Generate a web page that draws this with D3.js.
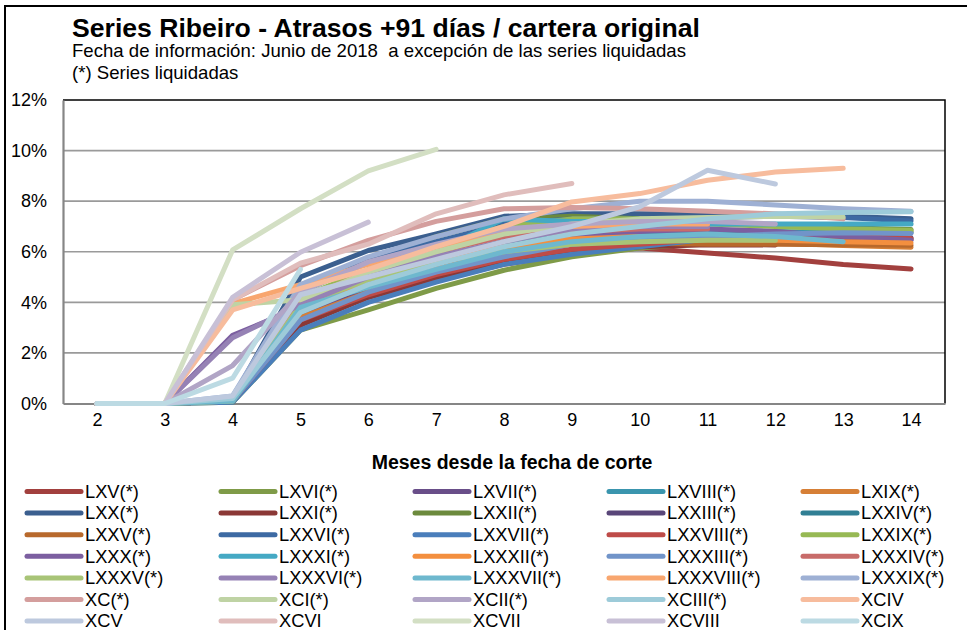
<!DOCTYPE html>
<html><head><meta charset="utf-8">
<script src="https://cdn.jsdelivr.net/npm/d3@7"></script>
<style>
html,body{margin:0;padding:0;background:#fff;}
svg{display:block;font-family:Arial,"Liberation Sans",sans-serif;}
</style></head>
<body><svg id="c" width="967" height="630"></svg>
<script>
const titleText = "Series Ribeiro - Atrasos +91 días / cartera original";
const subtitle1 = "Fecha de información: Junio de 2018  a excepción de las series liquidadas";
const subtitle2 = "(*) Series liquidadas";
const xTitle = "Meses desde la fecha de corte";

const months = [2,3,4,5,6,7,8,9,10,11,12,13,14];
const yTicks = [0,2,4,6,8,10,12];

const seriesNames = [
 "LXV(*)","LXVI(*)","LXVII(*)","LXVIII(*)","LXIX(*)",
 "LXX(*)","LXXI(*)","LXXII(*)","LXXIII(*)","LXXIV(*)",
 "LXXV(*)","LXXVI(*)","LXXVII(*)","LXXVIII(*)","LXXIX(*)",
 "LXXX(*)","LXXXI(*)","LXXXII(*)","LXXXIII(*)","LXXXIV(*)",
 "LXXXV(*)","LXXXVI(*)","LXXXVII(*)","LXXXVIII(*)","LXXXIX(*)",
 "XC(*)","XCI(*)","XCII(*)","XCIII(*)","XCIV",
 "XCV","XCVI","XCVII","XCVIII","XCIX"
];
const seriesColors = [
 "#A2403E","#7F9B48","#694E89","#3A95AE","#D67F36",
 "#3B5F8F","#8B3836","#6C8A3D","#594679","#317F94",
 "#B8692C","#3D6AA3","#4A7EBB","#BE4B48","#97B954",
 "#7C5FA0","#45A9C4","#F38F3F","#7194C9","#C86C6A",
 "#A8C477","#9682B5","#6EB8CE","#F8A66F","#9EB0D4",
 "#D49E9D","#BFD3A4","#B1A5C6","#9DCBD9","#F7BC9D",
 "#BDC9DE","#E0BDBC","#D3DFC4","#C8C0D6","#BCDAE3"
];
// values in %, starting at month 2
const seriesValues = [
 [0,0,0.10,3.20,4.20,4.90,5.50,5.90,6.15,5.95,5.75,5.50,5.32],
 [0,0,0.05,2.90,3.70,4.55,5.27,5.80,6.15,6.35,6.50,6.65,6.80],
 [0,0,0.15,3.50,4.60,5.30,5.90,6.40,6.60,6.65,6.60,6.55,6.48],
 [0,0,0.10,3.60,4.80,5.60,6.30,6.70,6.90,6.85,6.80,6.75],
 [0,0,0.10,3.40,4.40,5.10,5.80,6.30,6.50,6.45,6.35,6.25,6.18],
 [0,0,0.20,5.00,6.05,6.70,7.40,7.50,7.50,7.50,7.45,7.40,7.30],
 [0,0,0.10,3.10,4.20,5.00,5.60,6.00,6.20,6.28,6.27],
 [0,0,0.10,4.40,5.60,6.60,7.30,7.40,7.30,7.15,7.05,6.95,6.88],
 [0,0,0.20,3.80,4.90,5.60,6.20,6.60,6.70,6.70,6.65,6.60,6.55],
 [0,0,0.10,3.90,5.00,5.80,6.40,6.80,6.75,6.70,6.60,6.38],
 [0,0,0.10,3.70,4.80,5.50,6.10,6.30,6.35,6.30,6.30,6.28,6.26],
 [0,0,0.20,4.60,5.70,6.40,7.10,7.30,7.30,7.35,7.40,7.35,7.22],
 [0,0,0.05,2.90,4.00,4.80,5.50,5.90,6.20,6.50,6.60,6.70,6.75],
 [0,0,0.10,3.30,4.30,5.10,5.70,6.10,6.30,6.50,6.60,6.60,6.52],
 [0,0,0.20,4.20,5.30,6.20,7.00,7.30,7.30,7.10,7.00,6.90,6.85],
 [0,0,2.70,3.80,4.90,5.60,6.20,6.60,6.80,6.90,6.80,6.60,6.45],
 [0,0,0.10,4.00,5.20,6.00,7.30,7.20,7.20,7.10,7.10,7.10,7.10],
 [0,0,0.20,3.70,4.90,5.60,6.20,6.50,6.60,6.50,6.45,6.40,6.35],
 [0,0,0.10,3.30,4.40,5.20,5.80,6.30,6.50,6.60,6.70,6.75,6.72],
 [0,0,0.20,4.10,5.20,6.00,6.60,6.80,6.90,6.90],
 [0,0,0.10,3.90,4.90,5.60,6.00,6.30,6.40,6.45,6.45],
 [0,0,2.60,3.90,5.00,5.80,6.40,6.90,7.00,7.00],
 [0,0,0.10,3.80,4.60,5.30,6.00,6.40,6.60,6.70,6.60,6.40],
 [0,0,3.95,4.70,5.50,6.20,6.80,7.00,7.10,7.10],
 [0,0,0.30,4.70,5.80,6.60,7.30,7.70,8.00,8.00,7.85,7.70,7.60],
 [0,0,4.10,5.45,6.45,7.20,7.70,7.75,7.70,7.60,7.50,7.30],
 [0,0,3.90,4.10,5.20,6.00,6.70,7.10,7.30,7.35,7.40,7.37],
 [0,0,1.50,4.40,5.60,6.30,6.90,7.10,7.20,7.20,7.10],
 [0,0,0.20,3.60,4.70,5.50,6.20,6.70,7.00,7.30,7.50,7.55,7.58],
 [0,0,3.70,4.55,5.30,6.20,7.00,7.97,8.30,8.83,9.15,9.30],
 [0,0,0.30,4.30,5.00,5.70,6.40,7.00,7.78,9.22,8.68],
 [0,0,4.10,5.55,6.30,7.50,8.25,8.70],
 [0,0,6.07,7.70,9.20,10.05],
 [0,0,4.20,5.98,7.17],
 [0,0,1.00,5.30]
];

const svg = d3.select("#c");
const plot = {left:63, right:945, top:100, bottom:403.5};

// outer frame (right/bottom edges fall outside the picture)
svg.append("rect").attr("x",5).attr("y",6).attr("width",1000).attr("height",700)
  .attr("fill","#fff").attr("stroke","#000").attr("stroke-width",2);

// titles
svg.append("text").attr("x",72).attr("y",36.5).attr("font-size",26.6).attr("font-weight","bold").text(titleText);
svg.append("text").attr("x",72).attr("y",57).attr("font-size",18.6).style("white-space","pre").text(subtitle1);
svg.append("text").attr("x",72).attr("y",78.5).attr("font-size",18.6).text(subtitle2);

const x = d3.scalePoint().domain(months).range([plot.left, plot.right]).padding(0.5);
const y = d3.scaleLinear().domain([0,12]).range([plot.bottom, plot.top]);

// gridlines
svg.append("g").selectAll("line").data(yTicks.filter(t=>t>0 && t<12)).join("line")
  .attr("x1",plot.left).attr("x2",plot.right)
  .attr("y1",d=>y(d)).attr("y2",d=>y(d))
  .attr("stroke","#9a9a9a").attr("stroke-width",1.6);

// plot border: top and right black, left/bottom gray axis
svg.append("path").attr("d",`M${plot.left},${plot.top}H${plot.right}V${plot.bottom}`)
  .attr("fill","none").attr("stroke","#000").attr("stroke-width",1.5);

// y axis
const yAxis = d3.axisLeft(y).tickValues(yTicks).tickFormat(d=>d+"%").tickSize(0).tickPadding(16);
const gy = svg.append("g").attr("transform",`translate(${plot.left},0)`).call(yAxis);
gy.select(".domain").attr("stroke","#868686").attr("stroke-width",2.2);
gy.selectAll("text").attr("font-size",18).attr("font-family","Arial,'Liberation Sans',sans-serif").attr("fill","#000");

// x axis
const xAxis = d3.axisBottom(x).tickSize(0).tickPadding(10);
const gx = svg.append("g").attr("transform",`translate(0,${plot.bottom})`).call(xAxis);
gx.select(".domain").attr("stroke","#868686").attr("stroke-width",2.2);
gx.selectAll("text").attr("font-size",18).attr("font-family","Arial,'Liberation Sans',sans-serif").attr("fill","#000");

// lines
const line = d3.line().x((d,i)=>x(months[i])).y(d=>y(d));
svg.append("g").selectAll("path").data(seriesValues).join("path")
  .attr("d",d=>line(d))
  .attr("fill","none")
  .attr("stroke",(d,i)=>seriesColors[i])
  .attr("stroke-width",5)
  .attr("stroke-linecap","round")
  .attr("stroke-linejoin","round");

// x title
svg.append("text").attr("x",512).attr("y",469).attr("text-anchor","middle")
  .attr("font-size",19.5).attr("font-weight","bold").text(xTitle);

// legend
const colX = [26,220,414,608,802];
const rowY = 491.5, rowStep = 21.6;
const lg = svg.append("g").selectAll("g").data(seriesNames).join("g")
  .attr("transform",(d,i)=>`translate(${colX[i%5]},${rowY + Math.floor(i/5)*rowStep})`);
lg.append("line").attr("x1",1).attr("x2",55).attr("y1",0).attr("y2",0)
  .attr("stroke",(d,i)=>seriesColors[i]).attr("stroke-width",5).attr("stroke-linecap","round");
lg.append("text").attr("x",59).attr("y",6.3).attr("font-size",18.3).text(d=>d);
</script></body></html>
